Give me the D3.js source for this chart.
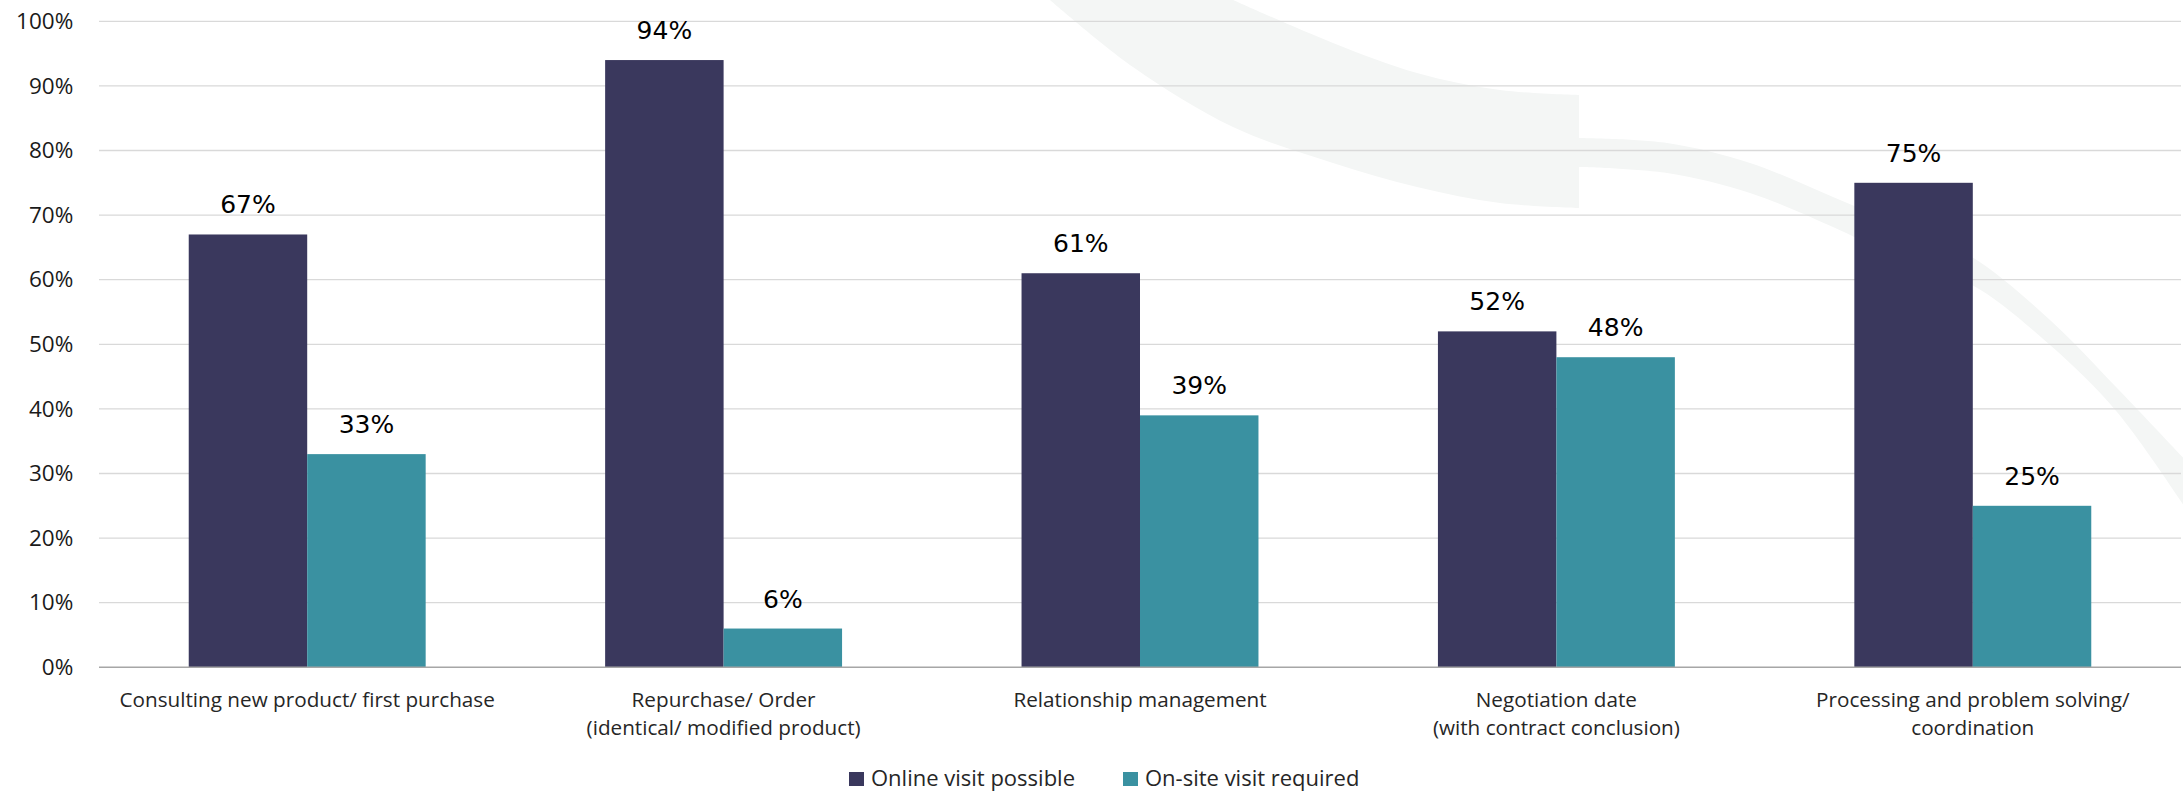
<!DOCTYPE html>
<html>
<head>
<meta charset="utf-8">
<script src="https://cdn.jsdelivr.net/npm/d3@7"></script>
<style>
  html, body { margin: 0; padding: 0; background: #ffffff; }
  svg { display: block; }
</style>
</head>
<body>
<svg id="chart" width="2183" height="793"></svg>
<script>
// Activity types (multi-line labels) and the two response shares, in percent
const categories = [
  ["Consulting new product/ first purchase"],
  ["Repurchase/ Order", "(identical/ modified product)"],
  ["Relationship management"],
  ["Negotiation date", "(with contract conclusion)"],
  ["Processing and problem solving/", "coordination"]
];
const seriesNames = ["Online visit possible", "On-site visit required"];
const onlineValues = [67, 94, 61, 52, 75];
const onsiteValues = [33, 6, 39, 48, 25];
const yTicks = [0, 10, 20, 30, 40, 50, 60, 70, 80, 90, 100];

// Background swoosh outline (decorative logo shape)
const swooshOuter1 = [[1050,0],[1133,67],[1233,127],[1333,163],[1417,187],[1500,203],[1579,208]];
const swooshInner1 = [[1579,95],[1500,90],[1417,73],[1333,43],[1233,0]];
const swooshTop2 = [[1579,138],[1667,143],[1750,163],[1833,197],[1917,233],[1972,257],[2050,320],[2117,388],[2190,465]];
const swooshBottom2 = [[2190,515],[2117,412],[2050,345],[1972,285],[1917,267],[1833,227],[1750,193],[1667,173],[1579,167]];

const colors = ["#3a385d", "#3a91a1"];

const svg = d3.select("#chart");
const plot = { left: 99, right: 2181, top: 21.3, bottom: 667.3 };

// Decorative background shape
const curve = d3.line().curve(d3.curveCatmullRom.alpha(0.5));
const wm = svg.append("g").attr("class", "watermark");
wm.append("path")
  .attr("d", curve(swooshOuter1) + "L" + curve(swooshInner1).slice(1) + "Z")
  .attr("fill", "#f4f6f5");
wm.append("path")
  .attr("d", curve(swooshTop2) + "L" + curve(swooshBottom2).slice(1) + "Z")
  .attr("fill", "#f4f6f5");

// Scales
const y = d3.scaleLinear().domain([0, 100]).range([plot.bottom, plot.top]);
const x0 = d3.scaleBand()
  .domain(d3.range(categories.length))
  .range([plot.left, plot.right])
  .paddingInner(0).paddingOuter(0);
const groupWidth = x0.bandwidth() * 0.569;
const x1 = d3.scaleBand()
  .domain(d3.range(seriesNames.length))
  .range([0, groupWidth])
  .padding(0);
const groupOffset = (x0.bandwidth() - groupWidth) / 2;

// Horizontal gridlines
svg.append("g")
  .selectAll("line")
  .data(yTicks.filter(t => t > 0))
  .join("line")
  .attr("x1", plot.left).attr("x2", plot.right)
  .attr("y1", d => y(d)).attr("y2", d => y(d))
  .attr("stroke", "#d9d9d9").attr("stroke-width", 1.3);

// Y axis labels
const yAxis = d3.axisLeft(y)
  .tickValues(yTicks)
  .tickFormat(d => d + "%")
  .tickSize(0)
  .tickPadding(0);
const yAxisG = svg.append("g")
  .attr("transform", `translate(${plot.left - 25.7},0)`)
  .call(yAxis);
yAxisG.select(".domain").remove();
yAxisG.selectAll("text")
  .attr("font-family", "'Open Sans', sans-serif")
  .attr("font-size", 22.5)
  .attr("fill", "#1a1a1a");

// Bars
const series = [onlineValues, onsiteValues];
const groups = svg.append("g").selectAll("g")
  .data(categories.map((c, i) => i))
  .join("g")
  .attr("transform", i => `translate(${x0(i) + groupOffset},0)`);

groups.selectAll("rect")
  .data(i => series.map((s, k) => ({ k, v: s[i] })))
  .join("rect")
  .attr("x", d => x1(d.k))
  .attr("y", d => y(d.v))
  .attr("width", x1.bandwidth())
  .attr("height", d => y(0) - y(d.v))
  .attr("fill", d => colors[d.k]);

// Value labels
groups.selectAll("text.value")
  .data(i => series.map((s, k) => ({ k, v: s[i] })))
  .join("text")
  .attr("class", "value")
  .attr("x", d => x1(d.k) + x1.bandwidth() / 2)
  .attr("y", d => y(d.v) - 21)
  .attr("text-anchor", "middle")
  .attr("font-family", "'DejaVu Sans', sans-serif")
  .attr("font-size", 25)
  .attr("fill", "#000000")
  .text(d => d.v + "%");

// Baseline axis
svg.append("line")
  .attr("x1", plot.left).attr("x2", plot.right)
  .attr("y1", y(0)).attr("y2", y(0))
  .attr("stroke", "#a6a6a6").attr("stroke-width", 1.5);

// Category labels
const catG = svg.append("g");
categories.forEach((lines, i) => {
  const t = catG.append("text")
    .attr("x", x0(i) + x0.bandwidth() / 2)
    .attr("y", 707)
    .attr("text-anchor", "middle")
    .attr("font-family", "'Open Sans', sans-serif")
    .attr("font-size", 20.7)
    .attr("fill", "#262626");
  lines.forEach((line, j) => {
    t.append("tspan")
      .attr("x", x0(i) + x0.bandwidth() / 2)
      .attr("dy", j === 0 ? 0 : 28)
      .text(line);
  });
});

// Legend
const legendX = [849, 1123];
const legend = svg.append("g");
seriesNames.forEach((name, k) => {
  legend.append("rect")
    .attr("x", legendX[k]).attr("y", 772)
    .attr("width", 15).attr("height", 14)
    .attr("fill", colors[k]);
  legend.append("text")
    .attr("x", legendX[k] + 22)
    .attr("y", 786)
    .attr("font-family", "'Open Sans', sans-serif")
    .attr("font-size", 22)
    .attr("fill", "#262626")
    .text(name);
});
</script>
</body>
</html>
